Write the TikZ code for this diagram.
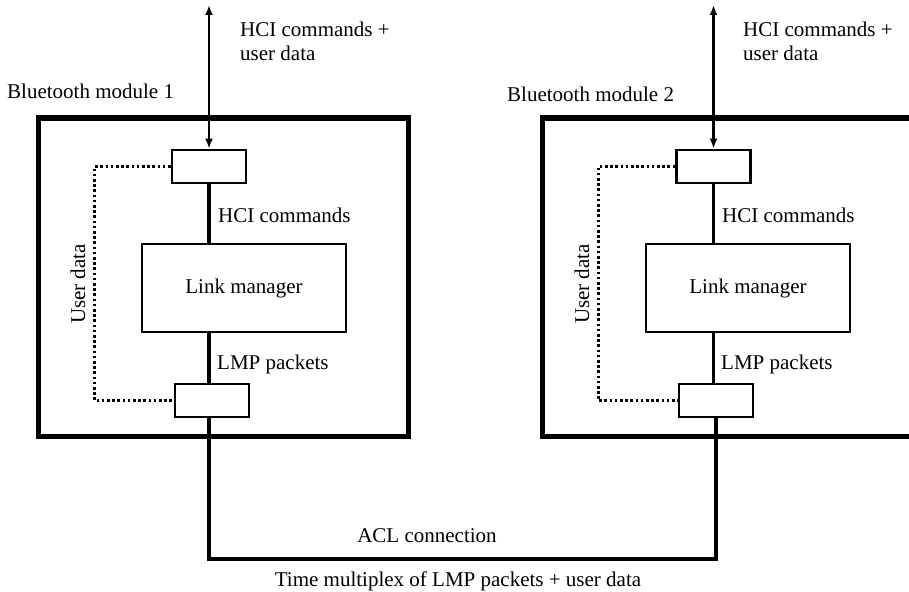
\documentclass[tikz,border=0pt]{standalone}
\usepackage{fontspec}
\setmainfont{Liberation Serif}
\usetikzlibrary{arrows.meta}
\begin{document}
\begin{tikzpicture}[x=1pt,y=-1pt,
  module/.style={draw,line width=5pt,minimum width=370pt,minimum height=318pt,inner sep=0pt},
  smallbox/.style={draw,line width=2.8pt,minimum width=74pt,minimum height=33pt,inner sep=0pt,fill=white},
  lmbox/.style={draw,line width=2.8pt,minimum width=204pt,minimum height=88pt,inner sep=0pt,font=\fontsize{21}{24}\selectfont},
  conn/.style={line width=3.6pt},
  dotline/.style={line width=3pt,dash pattern=on 2.6pt off 2.6pt},
  lbl/.style={inner sep=0pt,font=\fontsize{21}{24}\selectfont},
  arr/.style={line width=2.8pt,{Latex[length=10pt,width=8pt]}-{Latex[length=10pt,width=8pt]}}
]
\useasboundingbox (0,0) rectangle (909,591);
\clip (0,0) rectangle (909,591);
\fill[white] (0,0) rectangle (909,591);

% Module 1
\node[module] (m1) at (223,277) {};
\node[smallbox] (t1) at (209,166.5) {};
\node[lmbox] (lm1) at (244,288) {Link manager};
\node[smallbox] (b1) at (212,400.5) {};
\coordinate (a1) at (209,5);
\draw[arr] (a1) -- (t1.north);
\draw[conn] (t1.south) -- (t1.south |- lm1.north);
\draw[conn] (t1.south |- lm1.south) -- (t1.south |- b1.north);
\draw[dotline] (t1.west) -- ++(-76,0) |- (b1.west);
\node[lbl,anchor=base west] (bt1) at (7,99) {Bluetooth module 1};
\node[lbl,anchor=base west] (hu1a) at (240,37) {HCI commands +};
\node[lbl,anchor=base west] (hu1b) at (240,61) {user data};
\node[lbl,anchor=base west] (hc1) at (218,222) {HCI commands};
\node[lbl,anchor=base west] (lp1) at (217,369) {LMP packets};
\node[lbl,rotate=90,anchor=base] (ud1) at (85,284) {User data};

% Module 2
\node[module] (m2) at (727,277) {};
\node[smallbox] (t2) at (713.5,166.5) {};
\node[lmbox] (lm2) at (748,288) {Link manager};
\node[smallbox] (b2) at (716,400.5) {};
\coordinate (a2) at (713.5,5);
\draw[arr] (a2) -- (t2.north);
\draw[conn] (t2.south) -- (t2.south |- lm2.north);
\draw[conn] (t2.south |- lm2.south) -- (t2.south |- b2.north);
\draw[dotline] (t2.west) -- ++(-77,0) |- (b2.west);
\node[lbl,anchor=base west] (bt2) at (507,102) {Bluetooth module 2};
\node[lbl,anchor=base west] (hu2a) at (743,37) {HCI commands +};
\node[lbl,anchor=base west] (hu2b) at (743,61) {user data};
\node[lbl,anchor=base west] (hc2) at (722,222) {HCI commands};
\node[lbl,anchor=base west] (lp2) at (721,369) {LMP packets};
\node[lbl,rotate=90,anchor=base] (ud2) at (589,284) {User data};

% ACL connection
\coordinate (acl) at (460,559);
\draw[conn] (t1.south |- b1.south) |- (acl) -| (b2.south);
\node[lbl,anchor=base] (acltxt) at (427,542) {ACL connection};
\node[lbl,anchor=base] (tm) at (458,586) {Time multiplex of LMP packets + user data};
\end{tikzpicture}
\end{document}
